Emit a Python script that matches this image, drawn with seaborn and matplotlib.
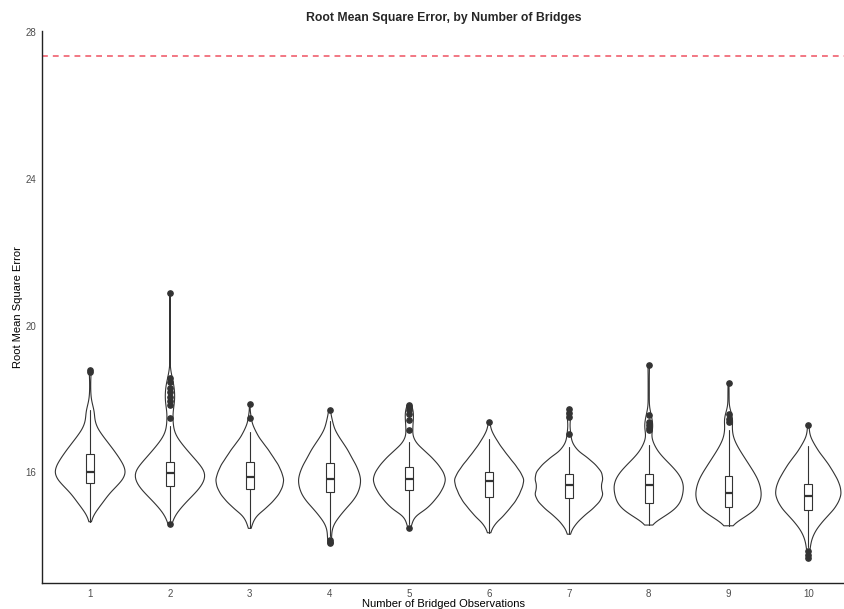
import numpy as np
import pandas as pd
import matplotlib
matplotlib.use("Agg")
import matplotlib.pyplot as plt
import seaborn as sns

# ---- data -------------------------------------------------------------
bridges = ["1", "2", "3", "4", "5", "6", "7", "8", "9", "10"]

# RMSE levels at which the simulation results were tallied
rmse_grid = [14.0, 14.2, 14.4, 14.6, 14.8, 15.0, 15.2, 15.4, 15.6, 15.8,
             16.0, 16.2, 16.4, 16.6, 16.8, 17.0, 17.2, 17.4, 17.6, 17.8,
             18.0, 18.2, 18.4, 18.6, 18.8]

# number of simulation runs falling at each RMSE level, per bridge count
counts_1 = [0, 0, 0, 0, 5, 15, 26, 36, 50, 64, 70, 65, 56, 46, 35, 24, 14, 9, 8, 5, 2, 1, 1, 1, 0]
counts_2 = [0, 0, 0, 2, 8, 20, 33, 48, 62, 70, 72, 60, 47, 34, 22, 11, 6, 5, 5, 7, 8, 8, 6, 3, 1]
counts_3 = [0, 0, 0, 5, 12, 30, 45, 57, 64, 67, 62, 56, 46, 37, 26, 15, 8, 3, 1, 0, 0, 0, 0, 0, 0]
counts_4 = [0, 2, 4, 9, 20, 32, 46, 56, 61, 63, 59, 53, 44, 37, 27, 17, 9, 5, 2, 0, 0, 0, 0, 0, 0]
counts_5 = [0, 0, 0, 4, 10, 35, 48, 60, 68, 73, 68, 58, 45, 29, 12, 6, 6, 7, 7, 3, 0, 0, 0, 0, 0]
counts_6 = [0, 0, 3, 12, 28, 40, 52, 60, 66, 70, 62, 52, 40, 29, 18, 9, 3, 0, 0, 0, 0, 0, 0, 0, 0]
counts_7 = [0, 0, 4, 14, 28, 46, 60, 67, 61, 66, 64, 52, 36, 15, 6, 3, 2, 2, 2, 0, 0, 0, 0, 0, 0]
counts_8 = [0, 0, 0, 5, 28, 47, 56, 59, 61, 58, 50, 38, 25, 14, 7, 4, 5, 5, 3, 1, 1, 1, 1, 1, 1]
counts_9 = [0, 0, 0, 8, 30, 48, 54, 56, 54, 50, 43, 35, 27, 19, 12, 7, 5, 6, 4, 1, 1, 1, 0, 0, 0]
counts_10 = [3, 7, 13, 23, 35, 48, 56, 61, 59, 54, 46, 38, 28, 17, 9, 3, 1, 0, 0, 0, 0, 0, 0, 0, 0]

# box-plot summaries
box_q1 = [15.72, 15.62, 15.55, 15.45, 15.51, 15.33, 15.29, 15.17, 15.04, 14.96]
box_median = [16.00, 15.98, 15.86, 15.81, 15.82, 15.75, 15.64, 15.64, 15.44, 15.35]
box_q3 = [16.51, 16.28, 16.28, 16.24, 16.13, 16.01, 15.95, 15.96, 15.89, 15.67]
whisker_low = [14.65, 14.66, 14.47, 14.27, 14.60, 14.35, 14.31, 14.56, 14.54, 13.95]
whisker_high = [17.69, 17.27, 17.10, 17.40, 16.83, 16.90, 16.69, 16.74, 17.14, 16.71]

outliers_1 = [18.72, 18.78]
outliers_2 = [14.60, 17.47, 17.83, 17.95, 18.05, 18.20, 18.30, 18.45, 18.56, 20.89]
outliers_3 = [17.49, 17.87]
outliers_4 = [14.07, 14.10, 14.15, 17.71]
outliers_5 = [14.47, 17.16, 17.42, 17.60, 17.70, 17.78, 17.83]
outliers_6 = [17.37]
outliers_7 = [17.03, 17.50, 17.62, 17.72]
outliers_8 = [17.14, 17.20, 17.30, 17.37, 17.55, 18.92]
outliers_9 = [17.37, 17.45, 17.60, 18.43]
outliers_10 = [13.65, 13.75, 13.86, 17.28]

# RMSE of the unbridged reference model
reference_rmse = 27.35

# ---- tidy table ---------------------------------------------------------
all_counts = [counts_1, counts_2, counts_3, counts_4, counts_5,
              counts_6, counts_7, counts_8, counts_9, counts_10]
all_outliers = [outliers_1, outliers_2, outliers_3, outliers_4, outliers_5,
                outliers_6, outliers_7, outliers_8, outliers_9, outliers_10]

frames = []
for lab, cnt, out, lo, hi in zip(bridges, all_counts, all_outliers,
                                 whisker_low, whisker_high):
    vals = np.concatenate([np.repeat(rmse_grid, cnt), out, [lo, hi]])
    frames.append(pd.DataFrame({"bridges": lab, "rmse": vals}))
df = pd.concat(frames, ignore_index=True)

# ---- plot ---------------------------------------------------------------
sns.set_style("white")
plt.rcParams["font.family"] = ["Liberation Sans", "DejaVu Sans"]

W, H = 845, 609
fig = plt.figure(figsize=(W / 100, H / 100), dpi=100)
ax = fig.add_axes([42.3 / W, 26 / H, 1 - 42.3 / W, (583 - 31) / H])

dark = "#333333"
sns.violinplot(data=df, x="bridges", y="rmse", order=bridges,
               fill=False, color=dark, linecolor=dark, linewidth=0.8,
               inner=None, cut=0, density_norm="area", width=0.9,
               bw_method=0.2, ax=ax)

stats = [dict(med=m, q1=a, q3=b, whislo=lo, whishi=hi, fliers=out)
         for m, a, b, lo, hi, out in zip(box_median, box_q1, box_q3,
                                         whisker_low, whisker_high, all_outliers)]
ax.bxp(stats, positions=range(len(bridges)), widths=0.1, patch_artist=True,
       showcaps=False, manage_ticks=False,
       boxprops=dict(facecolor="white", edgecolor=dark, linewidth=0.8),
       medianprops=dict(color=dark, linewidth=1.6),
       whiskerprops=dict(color=dark, linewidth=0.8),
       flierprops=dict(marker="o", markerfacecolor=dark, markeredgecolor=dark,
                       markersize=3.8))

ax.axhline(reference_rmse, color="#F0606E", linewidth=1.2,
           linestyle=(0, (3.5, 3)))

ax.set_xlim(-0.6, 9.46)
ax.set_ylim(12.98, 28.03)
ax.set_yticks([16, 20, 24, 28])
ax.set_xticks(range(len(bridges)))
ax.set_xticklabels(bridges)

for side in ("top", "right"):
    ax.spines[side].set_visible(False)
for side in ("left", "bottom"):
    ax.spines[side].set_color("#222222")
    ax.spines[side].set_linewidth(1.0)
ax.tick_params(axis="both", which="major", direction="out", length=3,
               width=0.8, color="#333333", labelsize=7,
               labelcolor="#4D4D4D", pad=1.5)

ax.set_xlabel("Number of Bridged Observations", fontsize=8, color="black",
              labelpad=0)
ax.set_ylabel("Root Mean Square Error", fontsize=8, color="black",
              labelpad=1.5)
ax.set_title("Root Mean Square Error, by Number of Bridges", fontsize=8.8,
             fontweight="bold", pad=7)

fig.savefig("out.png", dpi=100)
